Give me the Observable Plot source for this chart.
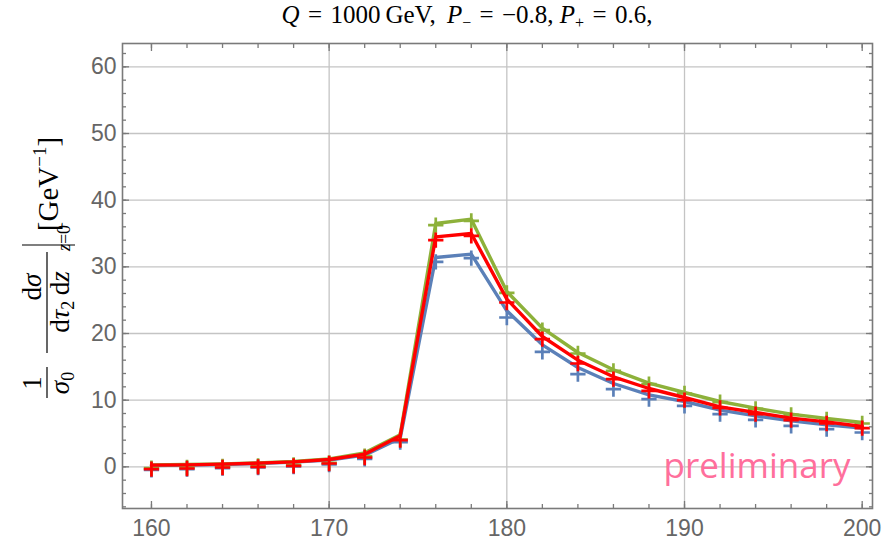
<!DOCTYPE html>
<html><head><meta charset="utf-8">
<script src="https://cdn.jsdelivr.net/npm/d3@7"></script>
<script src="https://cdn.jsdelivr.net/npm/@observablehq/plot@0.6"></script>
<style>
body{margin:0;background:#fff;}
#wrap{position:relative;width:887px;height:544px;overflow:hidden;}
#title{position:absolute;left:0;top:1px;width:934px;text-align:center;font-family:"Liberation Serif","DejaVu Serif",serif;font-size:25px;color:#000;white-space:nowrap;}
#title .s{font-size:16px;position:relative;top:5px;}
#plot{position:absolute;left:0;top:0;}
</style></head><body>
<div id="wrap"><div id="plot"></div><div id="title"><i>Q</i>&#8202; = &#8202;1000&#8201;GeV, &#8201;<i>P</i><span class="s">−</span>&#8202; = &#8202;−0.8, <i>P</i><span class="s">+</span>&#8202; = &#8202;0.6,</div></div>
<script>
// ---- data ----
const xs = [160,162,164,166,168,170,172,174,176,178,180,182,184,186,188,190,192,194,196,198,200];
// curves (lines)
const greenLine = [0.3,0.35,0.45,0.6,0.8,1.2,2.1,4.8,36.5,37.15,26.3,20.8,17.15,14.55,12.55,11.15,9.8,8.8,7.9,7.25,6.65];
const redLine   = [0.25,0.3,0.4,0.55,0.75,1.1,1.9,4.65,34.5,35.0,25.15,19.55,16.0,13.5,11.75,10.4,9.0,8.15,7.3,6.75,6.05];
const blueLine  = [0.2,0.25,0.35,0.5,0.7,1.0,1.75,4.3,31.4,31.9,23.4,18.3,14.9,12.5,10.8,9.8,8.5,7.65,6.9,6.3,5.8];
// points (+ markers)
const greenPts = [-0.2,-0.1,0.05,0.15,0.3,0.6,1.6,4.1,36.25,36.9,26.1,20.5,17.0,14.4,12.4,11.0,9.7,8.7,7.8,7.1,6.5];
const redPts   = [-0.35,-0.25,-0.1,0.0,0.15,0.5,1.4,4.0,34.0,34.65,24.65,19.15,15.5,13.15,11.4,10.0,8.85,7.9,7.0,6.5,5.8];
const bluePts  = [-0.45,-0.35,-0.2,-0.1,0.05,0.35,1.2,3.7,30.75,31.3,22.4,17.25,13.9,11.65,10.15,9.15,7.9,7.05,6.15,5.65,5.15];
// ticks
const xMajor = [160,170,180,190,200];
const xMinor = d3.range(160,201,2);
const xGrid = [170,180,190];
const yMajor = [0,10,20,30,40,50,60];
const yMinor = d3.range(-6,63,2);
const series = [
  {name:"blue", color:"#5b80b8", line:blueLine, pts:bluePts},
  {name:"green", color:"#8db13a", line:greenLine, pts:greenPts},
  {name:"red", color:"#ff0000", line:redLine, pts:redPts}
];

const axisColor = "#7a7a7a";
const marks = [
  Plot.gridY(yMajor, {stroke:"#c4c4c4", strokeOpacity:1, strokeWidth:1.3}),
  Plot.gridX(xGrid, {stroke:"#c4c4c4", strokeOpacity:1, strokeWidth:1.3}),
];
for (const s of series) {
  const rows = xs.map((x,i)=>({x, y:s.line[i]}));
  const prow = xs.map((x,i)=>({x, y:s.pts[i]}));
  marks.push(Plot.line(rows, {x:"x", y:"y", stroke:s.color, strokeWidth:3.4}));
  marks.push(Plot.dot(prow, {x:"x", y:"y", symbol:"plus", r:5, stroke:s.color, fill:"none", strokeWidth:2.7}));
}
const noText = () => "";
marks.push(
  Plot.frame({stroke:axisColor, strokeWidth:1.6}),
  Plot.axisX(xMinor, {anchor:"bottom", tickSize:-4, tickFormat:noText, stroke:axisColor, strokeWidth:1.3}),
  Plot.axisX(xMajor, {anchor:"bottom", tickSize:-7, tickFormat:noText, stroke:axisColor, strokeWidth:1.3}),
  Plot.axisX(xMinor, {anchor:"top", tickSize:-4, tickFormat:noText, stroke:axisColor, strokeWidth:1.3}),
  Plot.axisX(xMajor, {anchor:"top", tickSize:-7, tickFormat:noText, stroke:axisColor, strokeWidth:1.3}),
  Plot.axisY(yMinor, {anchor:"left", tickSize:-4, tickFormat:noText, stroke:axisColor, strokeWidth:1.3}),
  Plot.axisY(yMajor, {anchor:"left", tickSize:-7, tickFormat:noText, stroke:axisColor, strokeWidth:1.3}),
  Plot.axisY(yMinor, {anchor:"right", tickSize:-4, tickFormat:noText, stroke:axisColor, strokeWidth:1.3}),
  Plot.axisY(yMajor, {anchor:"right", tickSize:-7, tickFormat:noText, stroke:axisColor, strokeWidth:1.3}),
  Plot.axisX(xMajor, {anchor:"bottom", tickSize:0, tickPadding:11, tickFormat:d=>String(d), fill:"#666", fontSize:23, label:null}),
  Plot.axisY(yMajor, {anchor:"left", tickSize:0, tickPadding:6, tickFormat:d=>String(d), fill:"#666", fontSize:23, label:null}),
  Plot.text(["preliminary"], {frameAnchor:"bottom-right", dx:-22, dy:-31, text:d=>d, fontSize:35, fill:"#ff6f9c", fontFamily:"Open Sans", textAnchor:"end", lineAnchor:"bottom"})
);

const chart = Plot.plot({
  width:887, height:544,
  marginLeft:122, marginRight:15, marginTop:43, marginBottom:36,
  x:{domain:[158.37,200.58], label:null},
  y:{domain:[-6.25,63.5], label:null},
  style:{fontFamily:"'Liberation Sans Narrow','Liberation Sans',sans-serif", fontSize:"23px", color:"#666", background:"white", overflow:"visible"},
  marks
});
document.getElementById("plot").appendChild(chart);

// y-axis label (rotated math expression)
const svg = d3.select(chart);
const g = svg.append("g").attr("transform","translate(47,400) rotate(-90)")
  .attr("font-family","'Liberation Serif','DejaVu Serif',serif").attr("font-size",27).attr("fill","#000");
// 1 / sigma_0
g.append("text").attr("x",17).attr("y",-6).attr("text-anchor","middle").text("1");
g.append("line").attr("x1",2).attr("x2",33).attr("y1",0).attr("y2",0).attr("stroke","#000").attr("stroke-width",1.2);
const t1 = g.append("text").attr("x",17).attr("y",22).attr("text-anchor","middle");
t1.append("tspan").attr("font-style","italic").text("σ");
t1.append("tspan").attr("font-size",18).attr("dy",5).text("0");
// dσ / dτ2 dz
const t2 = g.append("text").attr("x",113).attr("y",-6).attr("text-anchor","middle");
t2.append("tspan").text("d");
t2.append("tspan").attr("font-style","italic").text("σ");
g.append("line").attr("x1",47).attr("x2",148).attr("y1",0).attr("y2",0).attr("stroke","#000").attr("stroke-width",1.2);
const t3 = g.append("text").attr("x",98).attr("y",22).attr("text-anchor","middle");
t3.append("tspan").text("d");
t3.append("tspan").attr("font-style","italic").text("τ");
t3.append("tspan").attr("font-size",18).attr("dy",5).text("2");
t3.append("tspan").attr("dy",-5).text("\u2009d");
t3.append("tspan").attr("font-style","italic").text("z");
// evaluation bar
g.append("line").attr("x1",155).attr("x2",155).attr("y1",-25).attr("y2",28).attr("stroke","#000").attr("stroke-width",1.2);
const t4 = g.append("text").attr("x",162).attr("y",23).attr("font-size",18);
t4.append("tspan").attr("font-style","italic").text("z");
t4.append("tspan").text("=0");
// [GeV^-1]
const t5 = g.append("text").attr("x",216).attr("y",11).attr("font-size",29);
t5.append("tspan").text("[GeV");
t5.append("tspan").attr("font-size",19).attr("dy",-12).text("−1");
t5.append("tspan").attr("dy",12).text("]");
</script>
</body></html>
